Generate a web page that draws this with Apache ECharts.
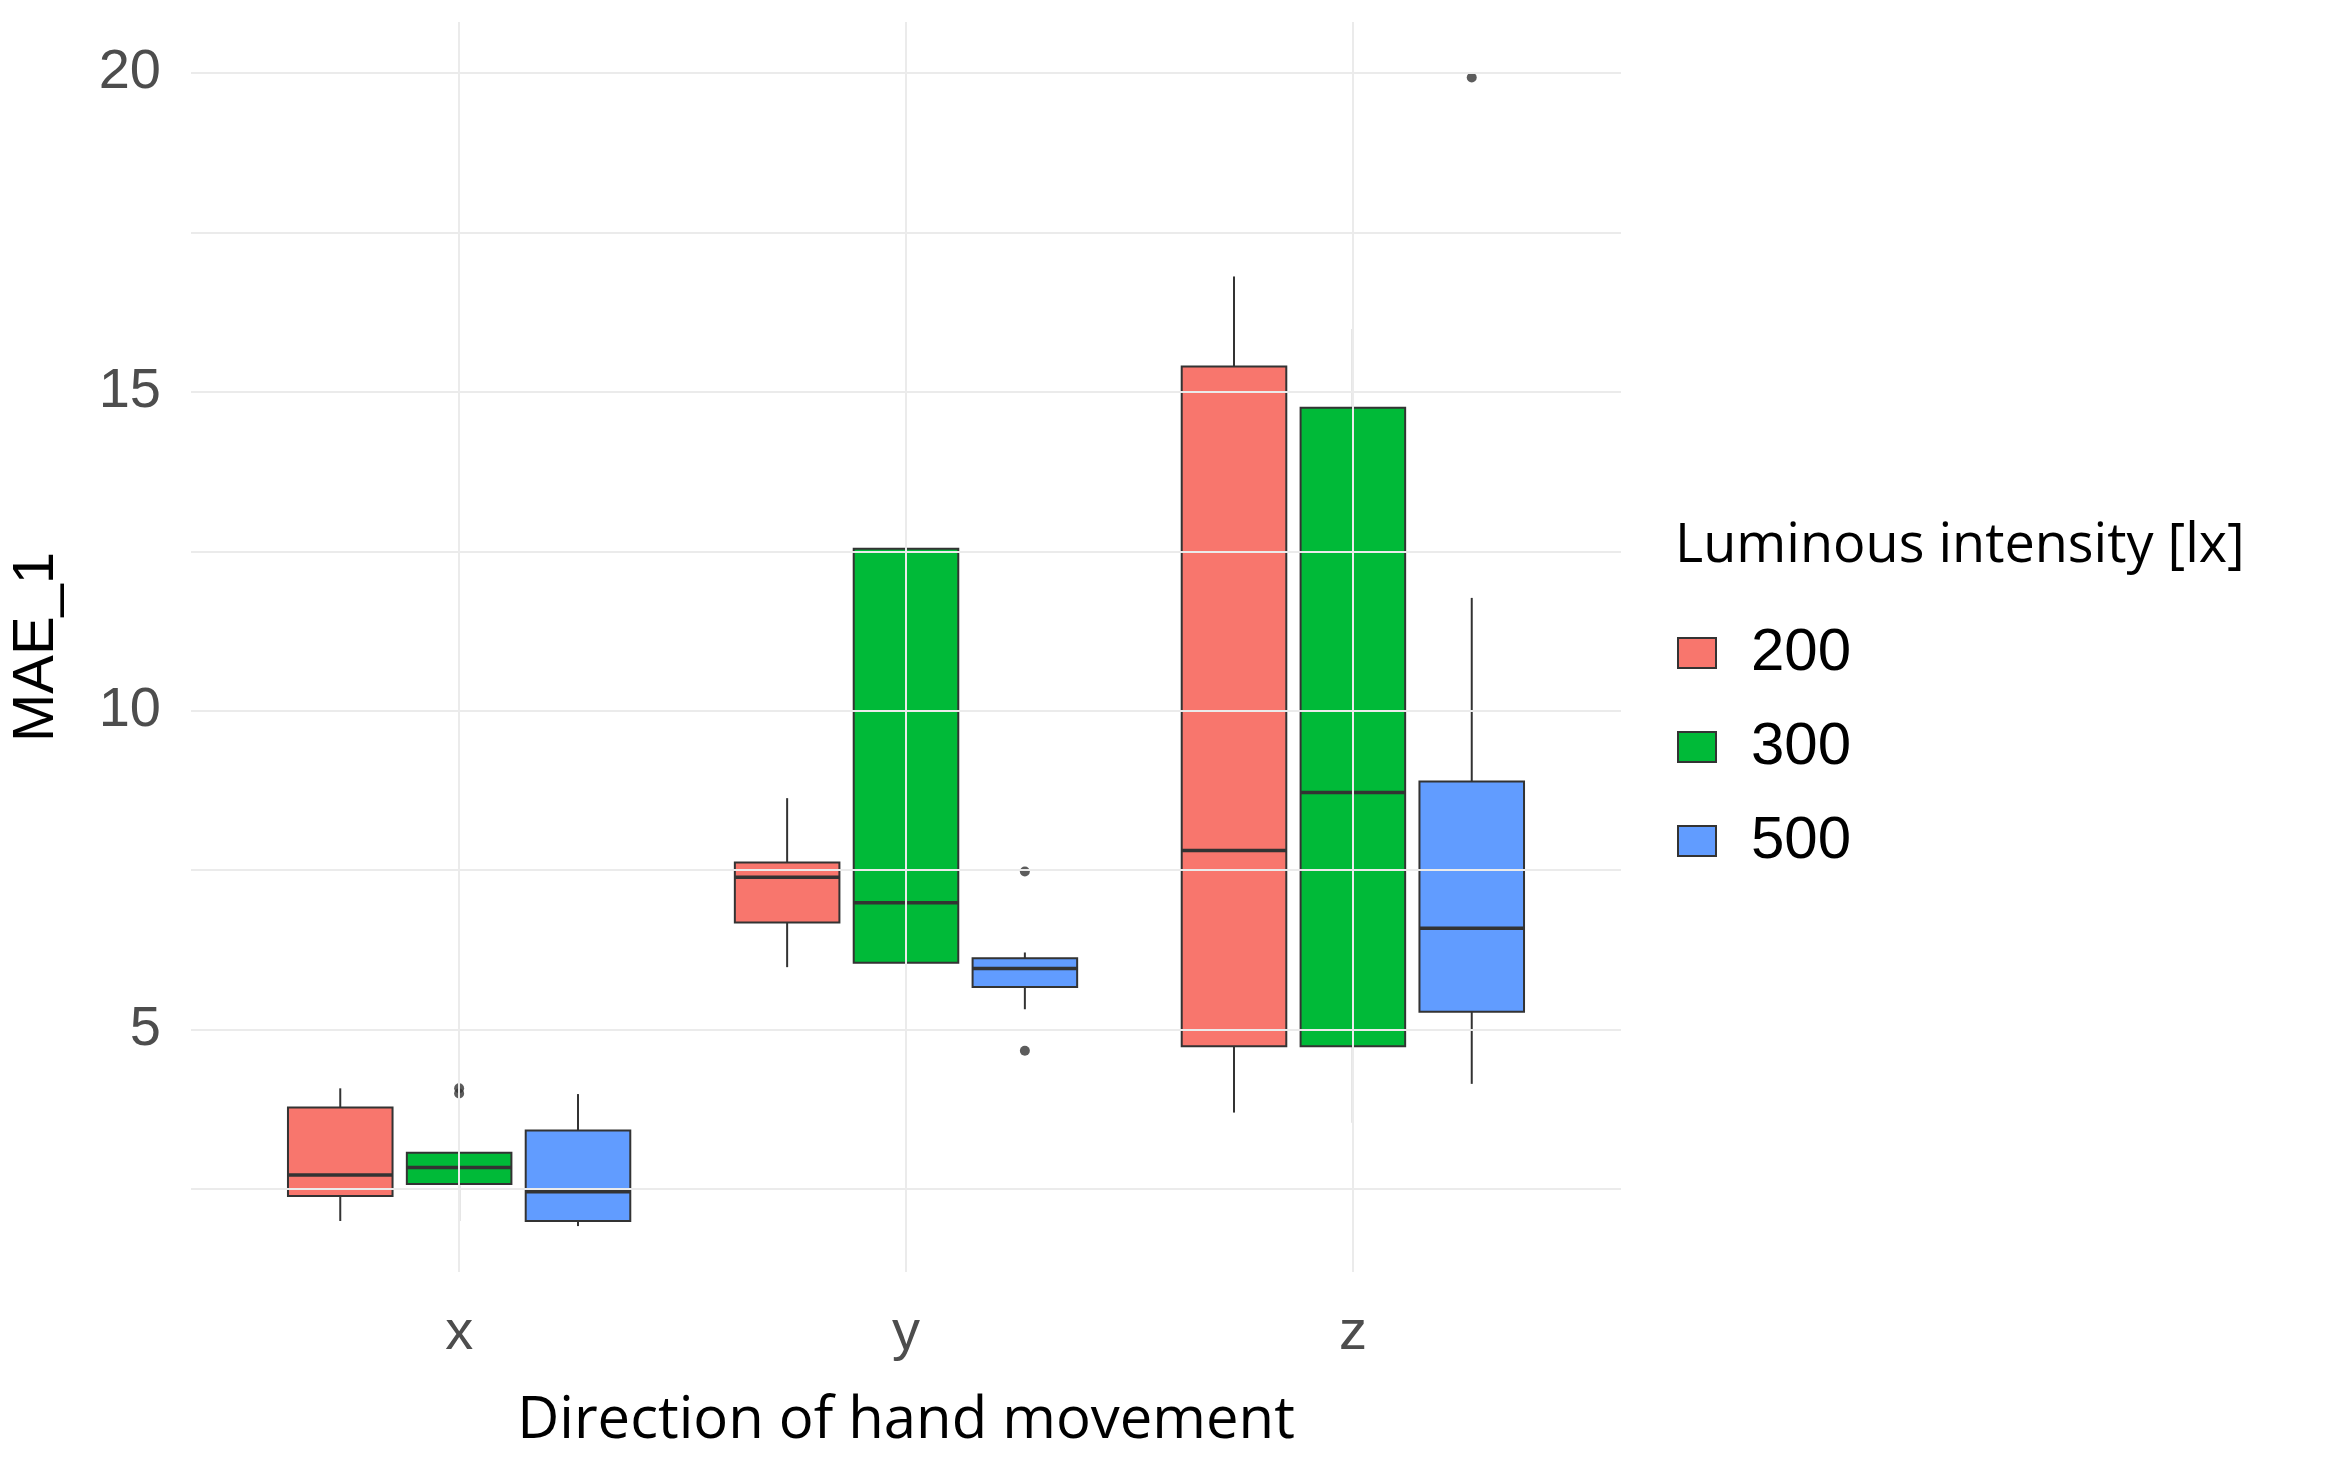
<!DOCTYPE html>
<html>
<head>
<meta charset="utf-8">
<script src="https://cdn.jsdelivr.net/npm/echarts@6/dist/echarts.min.js"></script>
<style>html,body{margin:0;background:#fff}#chart{width:2335px;height:1460px}</style>
</head>
<body>
<div id="chart"></div>
<script>
var categories = ['x', 'y', 'z'];
var groups = ['200', '300', '500'];
var colors = ['#F8766D', '#00BA38', '#619CFF'];
// [low, q1, median, q3, high] per category, per group
var box200 = [[2.0, 2.39, 2.72, 3.78, 4.08], [5.98, 6.68, 7.39, 7.62, 8.63], [3.70, 4.74, 7.81, 15.40, 16.81]];
var box300 = [[2.0, 2.58, 2.84, 3.07, 3.07], [5.53, 6.05, 6.99, 12.54, 14.51], [3.54, 4.74, 8.72, 14.75, 15.99]];
var box500 = [[1.92, 2.0, 2.46, 3.42, 3.99], [5.32, 5.67, 5.96, 6.12, 6.21], [4.15, 5.28, 6.59, 8.89, 11.77]];
// outliers: [category index, group index, value]
var outliers = [[0, 1, 4.08], [0, 1, 4.0], [1, 2, 7.48], [1, 2, 4.67], [2, 2, 19.93]];
var yTicks = [5, 10, 15, 20];
var yGrid = [2.5, 5, 7.5, 10, 12.5, 15, 17.5, 20];

var boxes = [box200, box300, box500];
var dodge = 0.266, halfW = 0.117;

function renderBox(params, api) {
    var x = api.value(0), low = api.value(1), q1 = api.value(2), med = api.value(3), q3 = api.value(4), high = api.value(5);
    var pL = api.coord([x - halfW, q3]), pR = api.coord([x + halfW, q1]);
    var pc = api.coord([x, med]), pLow = api.coord([x, low]), pHigh = api.coord([x, high]);
    var lineStyle = {stroke: '#333', lineWidth: 2};
    return {
        type: 'group',
        children: [
            {type: 'line', shape: {x1: pc[0], y1: pLow[1], x2: pc[0], y2: pR[1]}, style: lineStyle},
            {type: 'line', shape: {x1: pc[0], y1: pL[1], x2: pc[0], y2: pHigh[1]}, style: lineStyle},
            {type: 'rect', shape: {x: pL[0], y: pL[1], width: pR[0] - pL[0], height: pR[1] - pL[1]},
                style: {fill: api.visual('color'), stroke: '#333', lineWidth: 2}},
            {type: 'line', shape: {x1: pL[0], y1: pc[1], x2: pR[0], y2: pc[1]}, style: {stroke: '#333', lineWidth: 3.5}}
        ]
    };
}

var series = groups.map(function (g, gi) {
    return {
        name: g,
        type: 'custom',
        renderItem: renderBox,
        itemStyle: {color: colors[gi]},
        encode: {x: 0, y: [1, 2, 3, 4, 5]},
        data: boxes[gi].map(function (b, ci) {
            return [ci + 1 + (gi - 1) * dodge].concat(b);
        }),
        z: 3
    };
});
series[0].markLine = {
    silent: true, symbol: 'none', label: {show: false},
    lineStyle: {color: '#ebebeb', width: 2, type: 'solid'},
    data: yGrid.map(function (v) { return {yAxis: v}; })
        .concat([1, 2, 3].map(function (v) { return {xAxis: v}; }))
};
series.push({
    name: 'outliers',
    type: 'scatter',
    symbolSize: 10,
    itemStyle: {color: '#333'},
    data: outliers.map(function (o) { return [o[0] + 1 + (o[1] - 1) * dodge, o[2]]; }),
    z: 4
});

var chart = echarts.init(document.getElementById('chart'));
chart.setOption({
    backgroundColor: '#fff',
    animation: false,
    grid: {left: 177, right: 714, top: 22, bottom: 188},
    xAxis: {
        type: 'value', min: 0.4, max: 3.6,
        name: 'Direction of hand movement', nameLocation: 'middle', nameGap: 120,
        nameTextStyle: {fontSize: 58, color: '#000', fontFamily: 'Open Sans'},
        axisLine: {show: false}, axisTick: {show: false}, splitLine: {show: false},
        axisLabel: {customValues: [1, 2, 3], fontSize: 56, color: '#4d4d4d', margin: 34,
            fontFamily: 'Liberation Sans',
            formatter: function (v) { return categories[Math.round(v) - 1]; }}
    },
    yAxis: {
        type: 'value', min: 1.2, max: 20.8,
        name: 'MAE_1', nameLocation: 'middle', nameGap: 125, nameRotate: 90,
        nameTextStyle: {fontSize: 58, color: '#000', fontFamily: 'Liberation Sans'},
        axisLine: {show: false}, axisTick: {show: false}, splitLine: {show: false},
        axisLabel: {customValues: yTicks, fontSize: 56, color: '#4d4d4d', margin: 30,
            fontFamily: 'Liberation Sans'}
    },
    title: {
        text: 'Luminous intensity [lx]', left: 1670, top: 515,
        textStyle: {fontSize: 54, fontWeight: 'normal', color: '#000', fontFamily: 'Open Sans'}
    },
    legend: {
        data: groups, orient: 'vertical', left: 1672, top: 618,
        itemWidth: 38, itemHeight: 30, itemGap: 34, icon: 'rect',
        itemStyle: {borderColor: '#333', borderWidth: 2},
        textStyle: {fontSize: 60, color: '#000', fontFamily: 'Liberation Sans', padding: [0, 0, 0, 30]}
    },
    series: series
});
</script>
</body>
</html>
